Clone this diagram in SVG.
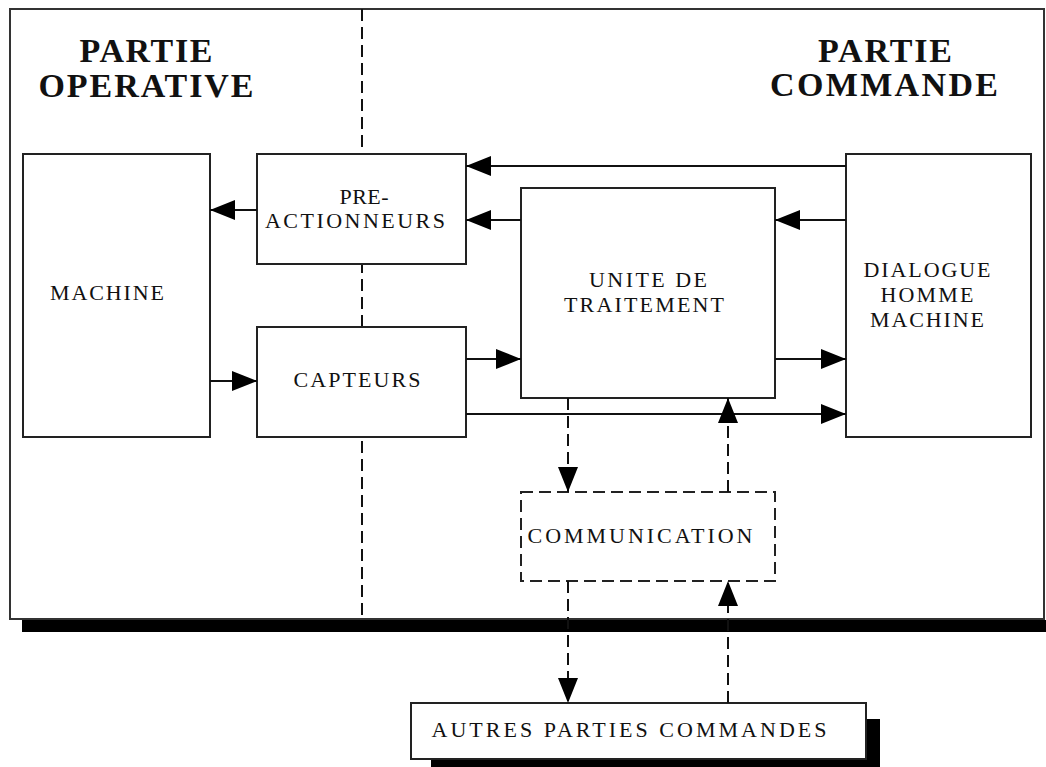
<svg xmlns="http://www.w3.org/2000/svg" width="1046" height="767" viewBox="0 0 1046 767">
<style>
.box{fill:#fff;stroke:#222;stroke-width:2}
.dbox{fill:#fff;stroke:#222;stroke-width:2;stroke-dasharray:12 6}
.ln{fill:none;stroke:#111;stroke-width:2}
.dl{fill:none;stroke:#111;stroke-width:2;stroke-dasharray:12 6}
.t{font-family:"Liberation Serif","Times New Roman",serif;font-size:22px;fill:#111;text-anchor:middle}
.h{font-family:"Liberation Serif","Times New Roman",serif;font-size:34px;font-weight:bold;fill:#111;text-anchor:middle}
</style>
<defs>
<marker id="ar" viewBox="0 0 25 20" refX="25" refY="10" markerWidth="25" markerHeight="20" markerUnits="userSpaceOnUse" orient="auto">
<path d="M0,0 L25,10 L0,20 z" fill="#000"/>
</marker>
</defs>
<rect width="1046" height="767" fill="#fff"/>
<g id="frame">
<rect x="22" y="620" width="1024" height="12" fill="#000"/>
<rect x="10" y="9" width="1034" height="610" fill="#fff" stroke="#333" stroke-width="2"/>
<line x1="362" y1="9" x2="362" y2="619" class="dl"/>
<text class="h" x="146" y="62" textLength="133" lengthAdjust="spacing">PARTIE</text>
<text class="h" x="146" y="97" textLength="215" lengthAdjust="spacing">OPERATIVE</text>
<text class="h" x="885" y="62" textLength="134" lengthAdjust="spacing">PARTIE</text>
<text class="h" x="884" y="96" textLength="228" lengthAdjust="spacing">COMMANDE</text>
</g>
<g id="machine">
<rect class="box" x="23" y="154" width="187" height="283"/>
<text class="t" x="107" y="300" textLength="114" lengthAdjust="spacing">MACHINE</text>
</g>
<g id="preactionneurs">
<rect class="box" x="257" y="154" width="209" height="110"/>
<text class="t" x="364" y="204" textLength="49" lengthAdjust="spacing">PRE-</text>
<text class="t" x="355" y="228" textLength="180" lengthAdjust="spacing">ACTIONNEURS</text>
</g>
<g id="capteurs">
<rect class="box" x="257" y="327" width="209" height="110"/>
<text class="t" x="357" y="387" textLength="127" lengthAdjust="spacing">CAPTEURS</text>
</g>
<g id="unite">
<rect class="box" x="521" y="188" width="254" height="210"/>
<text class="t" x="648" y="287" textLength="118" lengthAdjust="spacing">UNITE  DE</text>
<text class="t" x="644" y="312" textLength="160" lengthAdjust="spacing">TRAITEMENT</text>
</g>
<g id="dialogue">
<rect class="box" x="846" y="154" width="185" height="283"/>
<text class="t" x="927" y="277" textLength="127" lengthAdjust="spacing">DIALOGUE</text>
<text class="t" x="927" y="302" textLength="93" lengthAdjust="spacing">HOMME</text>
<text class="t" x="927" y="327" textLength="114" lengthAdjust="spacing">MACHINE</text>
</g>
<g id="communication">
<rect class="dbox" x="521" y="492" width="254" height="89"/>
<text class="t" x="640" y="543" textLength="225" lengthAdjust="spacing">COMMUNICATION</text>
</g>
<g id="autres">
<rect x="431" y="719" width="449" height="60" fill="#000"/>
<rect class="box" x="411" y="703" width="455" height="56"/>
<text class="t" x="629" y="737" textLength="395" lengthAdjust="spacing">AUTRES  PARTIES  COMMANDES</text>
</g>
<g id="connectors">
<line class="ln" x1="846" y1="166" x2="466" y2="166" marker-end="url(#ar)"/>
<line class="ln" x1="521" y1="220" x2="466" y2="220" marker-end="url(#ar)"/>
<line class="ln" x1="846" y1="220" x2="775" y2="220" marker-end="url(#ar)"/>
<line class="ln" x1="257" y1="210" x2="210" y2="210" marker-end="url(#ar)"/>
<line class="ln" x1="210" y1="381" x2="257" y2="381" marker-end="url(#ar)"/>
<line class="ln" x1="466" y1="359" x2="521" y2="359" marker-end="url(#ar)"/>
<line class="ln" x1="775" y1="359" x2="846" y2="359" marker-end="url(#ar)"/>
<line class="ln" x1="466" y1="414" x2="846" y2="414" marker-end="url(#ar)"/>
<line class="dl" x1="568" y1="398" x2="568" y2="492" marker-end="url(#ar)"/>
<line class="dl" x1="728" y1="492" x2="728" y2="398" marker-end="url(#ar)"/>
<line class="dl" x1="568" y1="581" x2="568" y2="703" marker-end="url(#ar)"/>
<line class="dl" x1="728" y1="703" x2="728" y2="581" marker-end="url(#ar)"/>
</g>
</svg>
